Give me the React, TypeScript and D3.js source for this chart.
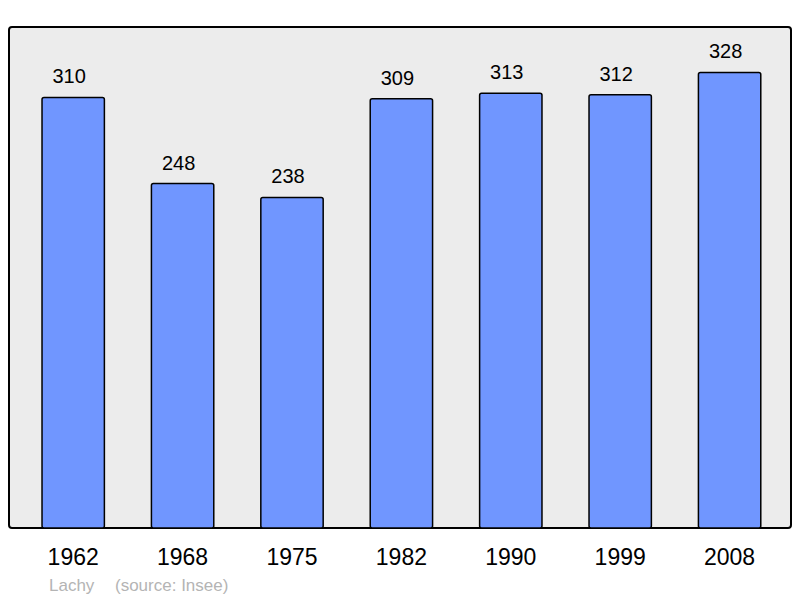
import React from "react";
import * as d3 from "d3";

const years = ["1962", "1968", "1975", "1982", "1990", "1999", "2008"];
const population = [310, 248, 238, 309, 313, 312, 328];
const placeName = "Lachy";
const sourceText = "(source: Insee)";

const W = 800;
const H = 598;

export default function App() {
  const font = "'Liberation Sans', Arial, sans-serif";

  const x = d3.scaleBand<string>()
    .domain(years)
    .range([18.5, 784.3])
    .paddingInner(0.43)
    .paddingOuter(0.215);

  const y = d3.scaleLinear()
    .domain([0, 360])
    .range([528, 28]);

  const data = years.map((year, i) => ({ year, value: population[i] }));

  return (
    <svg width={W} height={H} style={{ position: "absolute", left: 0, top: 0 }}>
      <rect x={9} y={27} width={782} height={501} rx={3} ry={3}
        fill="#ececec" stroke="#000" strokeWidth={2} />
      {data.map(d => {
        const cx = (x(d.year) as number) + x.bandwidth() / 2;
        return (
          <g key={d.year}>
            <rect
              x={x(d.year)}
              y={y(d.value)}
              width={x.bandwidth()}
              height={y(0) - y(d.value)}
              rx={2} ry={2}
              fill="#7096ff"
              stroke="#000"
              strokeWidth={1.5}
            />
            {/* value labels sit a little left of the bar centre in the original */}
            <text
              x={cx - 4}
              y={y(d.value) - 14}
              textAnchor="middle"
              fontFamily={font}
              fontSize={20}
              fill="#000"
            >{d.value}</text>
            <text
              x={cx}
              y={565}
              textAnchor="middle"
              fontFamily={font}
              fontSize={23}
              fill="#000"
            >{d.year}</text>
          </g>
        );
      })}
      <text x={49} y={591} fontFamily={font} fontSize={17} fill="#b4b4b4">{placeName}</text>
      <text x={115} y={591} fontFamily={font} fontSize={17} fill="#b4b4b4">{sourceText}</text>
    </svg>
  );
}
